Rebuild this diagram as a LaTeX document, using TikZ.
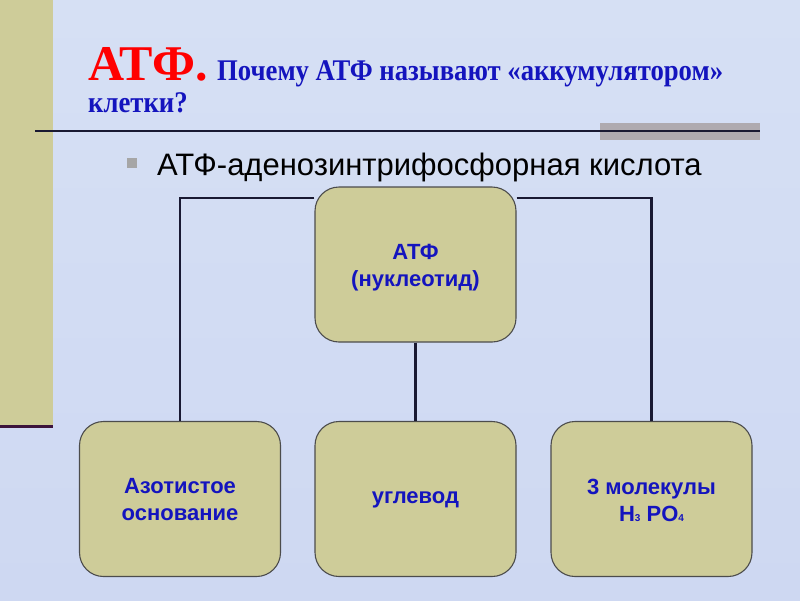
\documentclass[tikz,border=0pt]{standalone}
\usepackage{fontspec}
\setmainfont{Liberation Serif}
\setsansfont{Liberation Sans}
\newfontfamily\arialf{Liberation Sans}
\definecolor{bgc}{RGB}{206,216,242}
\definecolor{bgc2}{RGB}{214,224,244}
\definecolor{khaki}{RGB}{206,204,153}
\definecolor{txtblue}{RGB}{20,20,190}
\definecolor{linec}{RGB}{25,25,50}
\definecolor{barline}{RGB}{60,20,60}
\definecolor{grayband}{RGB}{175,170,175}
\begin{document}
\begin{tikzpicture}[x=1pt,y=-1pt,
  box/.style={draw=black!70,line width=1.1pt,fill=khaki,rounded corners=24pt,minimum width=201pt,minimum height=155pt,inner sep=0pt},
  boxtext/.style={font=\arialf\bfseries\fontsize{22}{27}\selectfont,text=txtblue,align=center},
  conn/.style={draw=linec,line width=2.4pt},
  bluetitle/.style={anchor=base west,inner sep=0pt,text=txtblue,font=\bfseries\fontsize{30}{33}\selectfont,xscale=0.89,transform shape}]
\useasboundingbox (0,0) rectangle (800,600);
\shade[top color=bgc2,bottom color=bgc] (0,0) rectangle (800,600);
% left bar
\fill[khaki] (0,0) rectangle (53,427);
\draw[barline,line width=3pt] (0,426) -- (53,426);
% header line and gray band
\fill[grayband] (600,123) rectangle (760,140);
\draw[linec,line width=1.8pt] (35,131) -- (760,131);
% title
\node[anchor=base west,inner sep=0pt,text=red,font=\bfseries\fontsize{50}{55}\selectfont] (t1) at (88,80) {АТФ.};
\node[bluetitle] (t2) at (217,80) {Почему АТФ называют «аккумулятором»};
\node[bluetitle] (t3) at (88,112) {клетки?};
% bullet
\fill[gray!70] (127,158) rectangle (137,168);
\node[anchor=base west,inner sep=0pt,font=\arialf\fontsize{31}{35}\selectfont] (b1) at (157,175) {АТФ-аденозинтрифосфорная кислота};
% boxes
\node[box] (top) at (415.5,264.5) {};
\node[box] (left) at (180,499) {};
\node[box] (mid) at (415.5,499) {};
\node[box] (right) at (651.5,499) {};
% connectors
\coordinate (cl) at (180,198);
\coordinate (cr) at (651.5,198);
\draw[conn] (top.west |- cl) -- (cl) -- (left.north);
\draw[conn] (top.east |- cr) -- (cr) -- (right.north);
\draw[conn] (top.south) -- (mid.north);
% texts
\node[boxtext] (tt) at (415.5,268) {АТФ\\(нуклеотид)};
\node[boxtext] (lt) at (180,500) {Азотистое\\основание};
\node[boxtext] (mt) at (415.5,500) {углевод};
\node[boxtext] (rt) at (651.5,500) {3 молекулы\\H{\fontsize{10}{10}\selectfont 3} PO{\fontsize{10}{10}\selectfont 4}};
\end{tikzpicture}
\end{document}
